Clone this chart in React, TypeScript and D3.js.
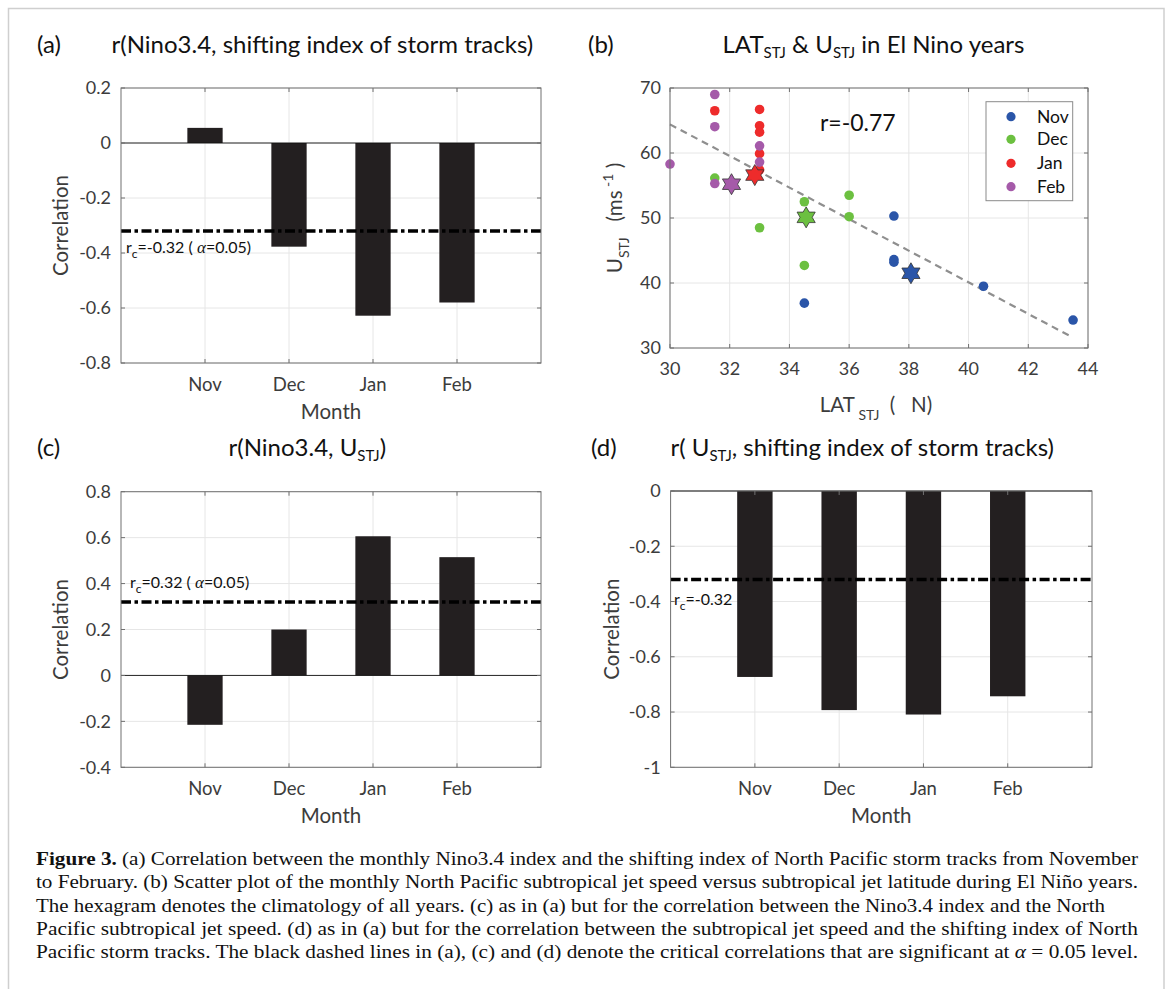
import React from 'react';
import * as d3 from 'd3';

// bar panels (a), (c), (d)
const months = ['Nov', 'Dec', 'Jan', 'Feb'];
const corrNinoStorm = [0.055, -0.377, -0.628, -0.58];
const corrNinoU = [-0.215, 0.2, 0.606, 0.515];
const corrUStorm = [-0.673, -0.793, -0.809, -0.743];
const ticksA = [0.2, 0, -0.2, -0.4, -0.6, -0.8];
const ticksC = [0.8, 0.6, 0.4, 0.2, 0, -0.2, -0.4];
const ticksD = [0, -0.2, -0.4, -0.6, -0.8, -1];
const critA = -0.32;
const critC = 0.32;
const critD = -0.32;

// scatter panel (b)
const monthColors = ['#2a55a8', '#6cc040', '#ee2b2b', '#a55aa9'];
const novLat = [43.5, 40.5, 37.5, 37.5, 37.5, 34.5];
const novU = [34.3, 39.5, 50.3, 43.6, 43.2, 36.9];
const decLat = [31.5, 33, 34.5, 34.5, 36, 36];
const decU = [56.15, 48.5, 52.5, 42.7, 53.5, 50.2];
const janLat = [31.5, 33, 33, 33, 33, 33];
const janU = [66.5, 66.7, 64.2, 63.2, 59.9, 57.4];
const febLat = [30, 31.5, 31.5, 31.5, 33, 33];
const febU = [58.3, 69.0, 64.05, 55.3, 61.1, 58.6];
const climLat = [38.07, 34.56, 32.84, 32.06];
const climU = [41.5, 50.1, 56.6, 55.2];
const fitLat = [30, 43.5];
const fitU = [64.4, 31.6];
const latTicks = [30, 32, 34, 36, 38, 40, 42, 44];
const uTicks = [30, 40, 50, 60, 70];
const rValue = 'r=-0.77';

const FONT = "Lato, 'Open Sans', sans-serif";
const SERIF = "'Liberation Serif', 'Times New Roman', serif";
const AXIS = '#707070';
const LABEL = '#3c3c3c';
const GRID = '#e6e6e6';

const fmt = (v: number) => {
  const s = String(Math.round(v * 10) / 10);
  return s === '-0' ? '0' : s;
};

function Frame({ left, right, top, bottom, xs, ys }) {
  // box with inward ticks on all four sides, MATLAB style
  const t = 4;
  return (
    <g stroke={AXIS} strokeWidth={1} fill="none">
      <rect x={left} y={top} width={right - left} height={bottom - top} />
      {ys.map((v, i) => (
        <g key={'y' + i}>
          <line x1={left} x2={left + t} y1={v} y2={v} />
          <line x1={right} x2={right - t} y1={v} y2={v} />
        </g>
      ))}
      {xs.map((v, i) => (
        <g key={'x' + i}>
          <line x1={v} x2={v} y1={bottom} y2={bottom - t} />
          <line x1={v} x2={v} y1={top} y2={top + t} />
        </g>
      ))}
    </g>
  );
}

function BarPanel({ left, right, top, bottom, domain, ticks, values, crit, note, noteX, noteY, ylabX }) {
  const x = d3.scaleLinear().domain([0, months.length + 1]).range([left, right]);
  const y = d3.scaleLinear().domain(domain).range([bottom, top]);
  const bw = x(0.42) - x(0);
  const cx = (left + right) / 2;
  const cy = (top + bottom) / 2;
  return (
    <g>
      {ticks.map((t) => (
        <line key={'gy' + t} x1={left} x2={right} y1={y(t)} y2={y(t)} stroke={GRID} />
      ))}
      {months.map((m, i) => (
        <line key={'gx' + m} x1={x(i + 1)} x2={x(i + 1)} y1={top} y2={bottom} stroke={GRID} />
      ))}
      {values.map((v, i) => (
        <rect
          key={'b' + i}
          x={x(i + 1) - bw / 2}
          width={bw}
          y={Math.min(y(v), y(0))}
          height={Math.abs(y(v) - y(0))}
          fill="#231f20"
        />
      ))}
      <line x1={left} x2={right} y1={y(0)} y2={y(0)} stroke="#111" strokeWidth={0.9} />
      <line
        x1={left}
        x2={right}
        y1={y(crit)}
        y2={y(crit)}
        stroke="#000"
        strokeWidth={3.5}
        strokeDasharray="10 3.5 3.5 3.5"
      />
      <Frame left={left} right={right} top={top} bottom={bottom} xs={months.map((m, i) => x(i + 1))} ys={ticks.map((t) => y(t))} />
      {ticks.map((t) => (
        <text key={'ty' + t} x={left - 10} y={y(t)} dy="0.35em" textAnchor="end" fontSize={18} fill={LABEL} fontFamily={FONT}>
          {fmt(t)}
        </text>
      ))}
      {months.map((m, i) => (
        <text key={'tx' + m} x={x(i + 1)} y={bottom + 28} textAnchor="middle" fontSize={18.5} fill={LABEL} fontFamily={FONT}>
          {m}
        </text>
      ))}
      <text x={cx} y={bottom + 56} textAnchor="middle" fontSize={20.5} fill={LABEL} fontFamily={FONT}>
        Month
      </text>
      <text
        transform={`translate(${ylabX},${cy}) rotate(-90)`}
        textAnchor="middle"
        fontSize={20.5}
        fill={LABEL}
        fontFamily={FONT}
      >
        Correlation
      </text>
      <text x={noteX} y={noteY} fontSize={16} fill="#111" fontFamily={FONT}>
        {note}
      </text>
    </g>
  );
}

function hexagram(R: number) {
  const pts = d3.range(12).map((i) => {
    const a = (i * Math.PI) / 6 - Math.PI / 2;
    const r = i % 2 === 0 ? R : R / Math.sqrt(3);
    return [r * Math.cos(a), r * Math.sin(a)] as [number, number];
  });
  return d3.line()(pts) + 'Z';
}

function ScatterPanel() {
  const left = 670, right = 1088, top = 88, bottom = 348;
  const x = d3.scaleLinear().domain([30, 44]).range([left, right]);
  const y = d3.scaleLinear().domain([30, 70]).range([bottom, top]);
  const groups = [
    [novLat, novU],
    [decLat, decU],
    [janLat, janU],
    [febLat, febU],
  ];
  const fit = d3.line<number>().x((d) => x(d)).y((d, i) => y(fitU[i]));
  const star = hexagram(10.5);
  const legendY = [116.7, 139.3, 163.3, 186.7];
  return (
    <g>
      {uTicks.map((t) => (
        <line key={'gy' + t} x1={left} x2={right} y1={y(t)} y2={y(t)} stroke={GRID} />
      ))}
      {latTicks.map((t) => (
        <line key={'gx' + t} x1={x(t)} x2={x(t)} y1={top} y2={bottom} stroke={GRID} />
      ))}
      <path d={fit(fitLat) as string} stroke="#8f8f8f" strokeWidth={2.2} strokeDasharray="7 5" fill="none" />
      {groups.map(([lats, us], g) =>
        lats.map((lat, i) => (
          <circle key={g + '-' + i} cx={x(lat)} cy={y(us[i])} r={4.8} fill={monthColors[g]} />
        ))
      )}
      {climLat.map((lat, i) => (
        <path
          key={'s' + i}
          d={star}
          transform={`translate(${x(lat)},${y(climU[i])})`}
          fill={monthColors[i]}
          stroke="#333"
          strokeWidth={0.8}
        />
      ))}
      <Frame left={left} right={right} top={top} bottom={bottom} xs={latTicks.map(x)} ys={uTicks.map(y)} />
      {uTicks.map((t) => (
        <text key={'ty' + t} x={left - 9} y={y(t)} dy="0.35em" textAnchor="end" fontSize={18} fill={LABEL} fontFamily={FONT}>
          {t}
        </text>
      ))}
      {latTicks.map((t) => (
        <text key={'tx' + t} x={x(t)} y={bottom + 27} textAnchor="middle" fontSize={18} fill={LABEL} fontFamily={FONT}>
          {t}
        </text>
      ))}
      <text x={(left + right) / 2 - 3} y={412} textAnchor="middle" fontSize={20.5} fill={LABEL} fontFamily={FONT}>
        LAT
        <tspan fontSize={14} dy={8}>{'\u00A0STJ'}</tspan>
        <tspan dy={-8}>{'\u00A0\u00A0(\u00A0\u00A0\u00A0N)'}</tspan>
      </text>
      <text
        transform={`translate(622,${(top + bottom) / 2}) rotate(-90)`}
        textAnchor="middle"
        fontSize={20.5}
        fill={LABEL}
        fontFamily={FONT}
      >
        U
        <tspan fontSize={14} dy={7}>STJ</tspan>
        <tspan dy={-7}>{'\u00A0\u00A0\u00A0(ms'}</tspan>
        <tspan fontSize={14} dy={-9}>{'\u00A0-1'}</tspan>
        <tspan dy={9}>{'\u00A0)'}</tspan>
      </text>
      <text x={820} y={130.5} fontSize={23} fill="#111" fontFamily={FONT}>
        {rValue}
      </text>
      <rect x={986} y={101.7} width={86.7} height={99} fill="#fff" stroke="#8a8a8a" strokeWidth={1} />
      {months.map((m, i) => (
        <g key={'l' + m}>
          <circle cx={1011} cy={legendY[i]} r={4.6} fill={monthColors[i]} />
          <text x={1037} y={legendY[i]} dy="0.35em" fontSize={17.5} fill="#111" fontFamily={FONT}>
            {m}
          </text>
        </g>
      ))}
    </g>
  );
}

const TITLE_SIZE = 24;
const SUB_SIZE = 15;

function Title({ x, y, tag, tagX, children }) {
  return (
    <g fontFamily={FONT} fill="#111" fontSize={TITLE_SIZE}>
      <text x={tagX} y={y}>{tag}</text>
      <text x={x} y={y}>{children}</text>
    </g>
  );
}

const captionLines = [
  ' (a) Correlation between the monthly Nino3.4 index and the shifting index of North Pacific storm tracks from November',
  'to February. (b) Scatter plot of the monthly North Pacific subtropical jet speed versus subtropical jet latitude during El Niño years.',
  'The hexagram denotes the climatology of all years. (c) as in (a) but for the correlation between the Nino3.4 index and the North',
  'Pacific subtropical jet speed. (d) as in (a) but for the correlation between the subtropical jet speed and the shifting index of North',
  'Pacific storm tracks. The black dashed lines in (a), (c) and (d) denote the critical correlations that are significant at ',
];

export default function App() {
  const capY = [865, 888.3, 911.6, 934.9, 958.2];
  return (
    <svg
      width={1169}
      height={989}
      style={{ position: 'absolute', left: 0, top: 0, background: '#fff' }}
    >
      <rect x={0} y={0} width={1169} height={989} fill="#fff" />
      <rect x={8.5} y={8.5} width={1155.5} height={1100} fill="none" stroke="#cfcfcf" strokeWidth={1.5} />

      <Title tag="(a)" tagX={37} x={111.5} y={53}>
        r(Nino3.4, shifting index of storm tracks)
      </Title>
      <BarPanel
        left={121}
        right={541}
        top={88}
        bottom={363}
        domain={[-0.8, 0.2]}
        ticks={ticksA}
        values={corrNinoStorm}
        crit={critA}
        noteX={126}
        noteY={253}
        ylabX={68}
        note={
          <>
            r<tspan fontSize={12} dy={5}>c</tspan>
            <tspan dy={-5}>={critA.toFixed(2)} (</tspan>
            <tspan fontFamily={SERIF} fontStyle="italic" fontSize={17}>{'\u00A0α'}</tspan>
            <tspan>=0.05)</tspan>
          </>
        }
      />

      <Title tag="(b)" tagX={588} x={722.5} y={53}>
        LAT<tspan fontSize={SUB_SIZE} dy={5}>STJ</tspan>
        <tspan dy={-5}>{' & U'}</tspan>
        <tspan fontSize={SUB_SIZE} dy={5}>STJ</tspan>
        <tspan dy={-5}>{' in El Nino years'}</tspan>
      </Title>
      <ScatterPanel />

      <Title tag="(c)" tagX={37} x={228.5} y={456}>
        r(Nino3.4, U<tspan fontSize={SUB_SIZE} dy={5}>STJ</tspan>
        <tspan dy={-5}>)</tspan>
      </Title>
      <BarPanel
        left={121}
        right={541}
        top={491.7}
        bottom={767.3}
        domain={[-0.4, 0.8]}
        ticks={ticksC}
        values={corrNinoU}
        crit={critC}
        noteX={130}
        noteY={588}
        ylabX={68}
        note={
          <>
            r<tspan fontSize={12} dy={5}>c</tspan>
            <tspan dy={-5}>={critC.toFixed(2)} (</tspan>
            <tspan fontFamily={SERIF} fontStyle="italic" fontSize={17}>{'\u00A0α'}</tspan>
            <tspan>=0.05)</tspan>
          </>
        }
      />

      <Title tag="(d)" tagX={591} x={670.5} y={456}>
        r( U<tspan fontSize={SUB_SIZE} dy={5}>STJ</tspan>
        <tspan dy={-5}>, shifting index of storm tracks)</tspan>
      </Title>
      <BarPanel
        left={670.6}
        right={1092}
        top={491}
        bottom={767.3}
        domain={[-1, 0]}
        ticks={ticksD}
        values={corrUStorm}
        crit={critD}
        noteX={674}
        noteY={605}
        ylabX={619}
        note={
          <>
            r<tspan fontSize={12} dy={5}>c</tspan>
            <tspan dy={-5}>={critD.toFixed(2)}</tspan>
          </>
        }
      />

      <g fontFamily={SERIF} fontSize={18.5} fill="#111">
        {captionLines.map((line, i) => (
          <text
            key={i}
            x={36}
            y={capY[i]}
            textLength={i === 2 ? 1069 : 1102}
            lengthAdjust="spacingAndGlyphs"
          >
            {i === 0 && <tspan fontWeight="bold">Figure 3.</tspan>}
            {line}
            {i === 4 && (
              <>
                <tspan fontStyle="italic">α</tspan>
                <tspan>{' = 0.05 level.'}</tspan>
              </>
            )}
          </text>
        ))}
      </g>
    </svg>
  );
}
